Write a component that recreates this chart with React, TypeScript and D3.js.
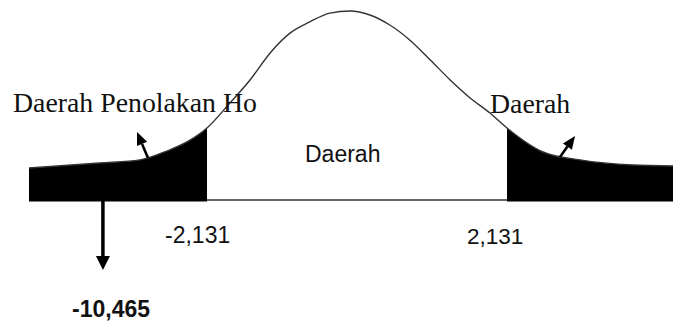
import React, { useEffect, useRef } from "react";
import * as d3 from "d3";

// t-distribution sketch (df = 15), hand-drawn shape
const tValues = [-4.78, -3.73, -3.13, -2.73, -2.43, -2.131, -1.79, -1.49, -1.19, -0.89, -0.6, -0.3, 0,
  0.27, 0.54, 0.81, 1.09, 1.36, 1.63, 1.9, 2.131, 2.62, 3.12, 3.84, 4.38];
const heights = [0.169, 0.196, 0.212, 0.259, 0.307, 0.381, 0.513, 0.635, 0.778, 0.884, 0.942, 0.989, 1,
  0.979, 0.926, 0.847, 0.741, 0.635, 0.54, 0.46, 0.381, 0.254, 0.212, 0.185, 0.18];
const tCritical = 2.131;
const tHitung = "-10,465";
const tHitungMark = -3.68; // where the arrow leaves the axis
const labels = ["Daerah Penolakan Ho", "Daerah", "Daerah"];

const W = 673;
const H = 323;

export default function App() {
  const ref = useRef<SVGSVGElement>(null);

  useEffect(() => {
    const svg = d3.select(ref.current);
    svg.selectAll("*").remove();

    const x = d3.scaleLinear()
      .domain([-4.78, -tCritical, 0, tCritical, 4.38])
      .range([29, 207, 350, 507, 673]);
    const y = d3.scaleLinear().domain([0, 1]).range([200, 11]);

    const pts = tValues.map((t, i) => [t, heights[i]] as [number, number]);

    const defs = svg.append("defs");
    defs.append("clipPath").attr("id", "leftTail")
      .append("rect").attr("x", 0).attr("y", 0)
      .attr("width", x(-tCritical)).attr("height", H);
    defs.append("clipPath").attr("id", "rightTail")
      .append("rect").attr("x", x(tCritical)).attr("y", 0)
      .attr("width", W - x(tCritical)).attr("height", H);

    const area = d3.area<[number, number]>()
      .x((d) => x(d[0]))
      .y0(y(0) + 1.5)
      .y1((d) => y(d[1]))
      .curve(d3.curveMonotoneX);
    const line = d3.line<[number, number]>()
      .x((d) => x(d[0]))
      .y((d) => y(d[1]))
      .curve(d3.curveMonotoneX);

    // rejection regions
    svg.append("path").datum(pts).attr("d", area).attr("fill", "#000")
      .attr("clip-path", "url(#leftTail)");
    svg.append("path").datum(pts).attr("d", area).attr("fill", "#000")
      .attr("clip-path", "url(#rightTail)");

    // baseline
    svg.append("line")
      .attr("x1", x(-tCritical)).attr("x2", x(tCritical))
      .attr("y1", y(0)).attr("y2", y(0))
      .attr("stroke", "#333").attr("stroke-width", 1.4);

    // curve
    svg.append("path").datum(pts).attr("d", line)
      .attr("fill", "none").attr("stroke", "#333").attr("stroke-width", 1.4);

    // arrows
    const arrow = (x1: number, y1: number, x2: number, y2: number, w: number, hl: number, hw: number) => {
      const ang = Math.atan2(y2 - y1, x2 - x1);
      const bx = x2 - hl * Math.cos(ang);
      const by = y2 - hl * Math.sin(ang);
      svg.append("line").attr("x1", x1).attr("y1", y1).attr("x2", bx).attr("y2", by)
        .attr("stroke", "#000").attr("stroke-width", w);
      const px = -Math.sin(ang) * hw / 2;
      const py = Math.cos(ang) * hw / 2;
      svg.append("path")
        .attr("d", `M${x2},${y2}L${bx + px},${by + py}L${bx - px},${by - py}Z`)
        .attr("fill", "#000");
    };
    arrow(148, 158, 137, 132, 2.6, 13, 11);
    arrow(560, 157, 575, 136, 2.6, 13, 11);
    arrow(x(tHitungMark), y(0), x(tHitungMark), 270, 3.5, 14, 14);

    const serif = "'Liberation Serif', 'Times New Roman', serif";
    const sans = "'Liberation Sans', Arial, sans-serif";

    svg.append("text").attr("x", 13).attr("y", 112).text(labels[0])
      .attr("font-family", serif).attr("font-size", 27.8).attr("fill", "#111");
    svg.append("text").attr("x", 490).attr("y", 113).text(labels[1])
      .attr("font-family", serif).attr("font-size", 27.8).attr("fill", "#111");
    svg.append("text").attr("x", 305).attr("y", 162).text(labels[2])
      .attr("font-family", sans).attr("font-size", 23).attr("fill", "#111");

    svg.append("text").attr("x", 165).attr("y", 243).text("-" + d3.format(".3f")(tCritical).replace(".", ","))
      .attr("font-family", sans).attr("font-size", 23).attr("fill", "#111");
    svg.append("text").attr("x", 467).attr("y", 244).text(d3.format(".3f")(tCritical).replace(".", ","))
      .attr("font-family", sans).attr("font-size", 22.5).attr("fill", "#111");
    svg.append("text").attr("x", 72).attr("y", 317).text(tHitung)
      .attr("font-family", sans).attr("font-size", 23).attr("font-weight", "bold").attr("fill", "#111");
  }, []);

  return (
    <svg ref={ref} width={W} height={H}
      style={{ position: "absolute", left: 0, top: 0, background: "#fff" }} />
  );
}
